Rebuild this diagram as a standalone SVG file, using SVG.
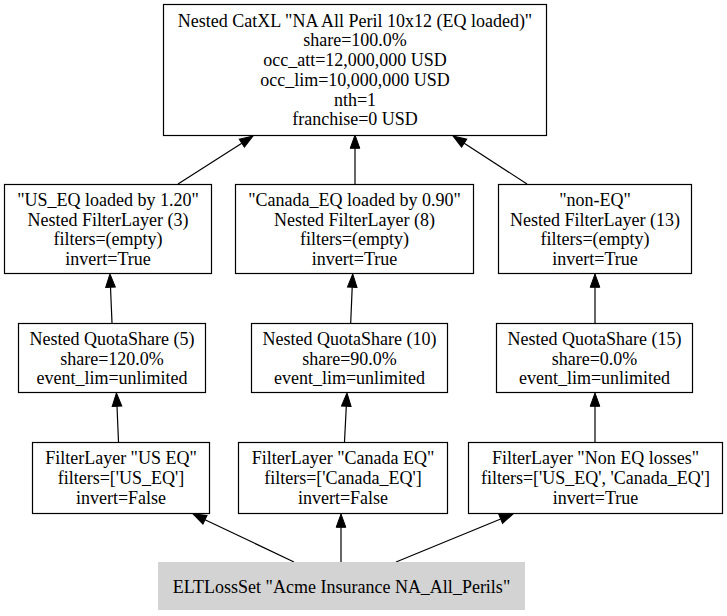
<svg xmlns="http://www.w3.org/2000/svg" width="727" height="616" viewBox="0 0 727 616">
<defs>
<marker id="ah" markerUnits="userSpaceOnUse" markerWidth="16" markerHeight="12" refX="0" refY="0" viewBox="0 -6 16 12" orient="auto" overflow="visible">
<path d="M0,-4.8 L13.3,0 L0,4.8 Z" fill="#000" stroke="#000" stroke-width="1"/>
</marker>
</defs>
<style>
rect.n{fill:#fff;stroke:#000;stroke-width:1.2}
rect.g{fill:#d3d3d3;stroke:none}
text{font-family:"Liberation Serif","Times New Roman",serif;font-size:18px;text-anchor:middle;fill:#000}
.e path{fill:none;stroke:#000;stroke-width:1.2;marker-end:url(#ah)}
</style>
<rect width="727" height="616" fill="#fff"/>
<g class="e" id="edges">
<path d="M178,184 L241.8,143.2"/>
<path d="M355,184 L355,148.3"/>
<path d="M527,184 L464.2,143.2"/>
<path d="M112,323 L110.5,287.3"/>
<path d="M350.7,323 L352.2,287.3"/>
<path d="M595,323 L595,287.3"/>
<path d="M118.5,442 L117,406.3"/>
<path d="M344.5,442 L346.3,406.3"/>
<path d="M595,442 L595,406.3"/>
<path d="M341,562 L341,527.3"/>
<path d="M294,562 L205,519.7"/>
<path d="M396,562 L500.7,519"/>
</g>
<g id="n_catxl">
<rect class="n" x="163.5" y="4.5" width="383" height="131"/>
<text x="355" y="26.6">Nested CatXL "NA All Peril 10x12 (EQ loaded)"</text>
<text x="355" y="46.4">share=100.0%</text>
<text x="355" y="66.1">occ_att=12,000,000 USD</text>
<text x="355" y="85.9">occ_lim=10,000,000 USD</text>
<text x="355" y="105.6">nth=1</text>
<text x="355" y="125.4">franchise=0 USD</text>
</g>
<g id="n_fl3">
<rect class="n" x="4.5" y="184.5" width="207" height="89"/>
<text x="108" y="205.9">"US_EQ loaded by 1.20"</text>
<text x="108" y="225.6">Nested FilterLayer (3)</text>
<text x="108" y="245.4">filters=(empty)</text>
<text x="108" y="265.1">invert=True</text>
</g>
<g id="n_fl8">
<rect class="n" x="235.5" y="184.5" width="238" height="89"/>
<text x="354.5" y="205.9">"Canada_EQ loaded by 0.90"</text>
<text x="354.5" y="225.6">Nested FilterLayer (8)</text>
<text x="354.5" y="245.4">filters=(empty)</text>
<text x="354.5" y="265.1">invert=True</text>
</g>
<g id="n_fl13">
<rect class="n" x="498.5" y="184.5" width="193" height="89"/>
<text x="595" y="205.9">"non-EQ"</text>
<text x="595" y="225.6">Nested FilterLayer (13)</text>
<text x="595" y="245.4">filters=(empty)</text>
<text x="595" y="265.1">invert=True</text>
</g>
<g id="n_qs5">
<rect class="n" x="18.5" y="323.5" width="187" height="69"/>
<text x="112" y="344.8">Nested QuotaShare (5)</text>
<text x="112" y="364.5">share=120.0%</text>
<text x="112" y="384.3">event_lim=unlimited</text>
</g>
<g id="n_qs10">
<rect class="n" x="251.5" y="323.5" width="196" height="69"/>
<text x="349.5" y="344.8">Nested QuotaShare (10)</text>
<text x="349.5" y="364.5">share=90.0%</text>
<text x="349.5" y="384.3">event_lim=unlimited</text>
</g>
<g id="n_qs15">
<rect class="n" x="496.5" y="323.5" width="196" height="69"/>
<text x="594.5" y="344.8">Nested QuotaShare (15)</text>
<text x="594.5" y="364.5">share=0.0%</text>
<text x="594.5" y="384.3">event_lim=unlimited</text>
</g>
<g id="n_f_us">
<rect class="n" x="32.5" y="442.5" width="177" height="71"/>
<text x="121" y="464.3">FilterLayer "US EQ"</text>
<text x="121" y="484">filters=['US_EQ']</text>
<text x="121" y="503.8">invert=False</text>
</g>
<g id="n_f_ca">
<rect class="n" x="238.5" y="442.5" width="209" height="71"/>
<text x="343" y="464.3">FilterLayer "Canada EQ"</text>
<text x="343" y="484">filters=['Canada_EQ']</text>
<text x="343" y="503.8">invert=False</text>
</g>
<g id="n_f_non">
<rect class="n" x="468.5" y="442.5" width="254" height="71"/>
<text x="595.5" y="464.3">FilterLayer "Non EQ losses"</text>
<text x="595.5" y="484">filters=['US_EQ', 'Canada_EQ']</text>
<text x="595.5" y="503.8">invert=True</text>
</g>
<g id="n_elt">
<rect class="g" x="158" y="562" width="367" height="48"/>
<text x="341.5" y="592.5">ELTLossSet "Acme Insurance NA_All_Perils"</text>
</g>
</svg>
